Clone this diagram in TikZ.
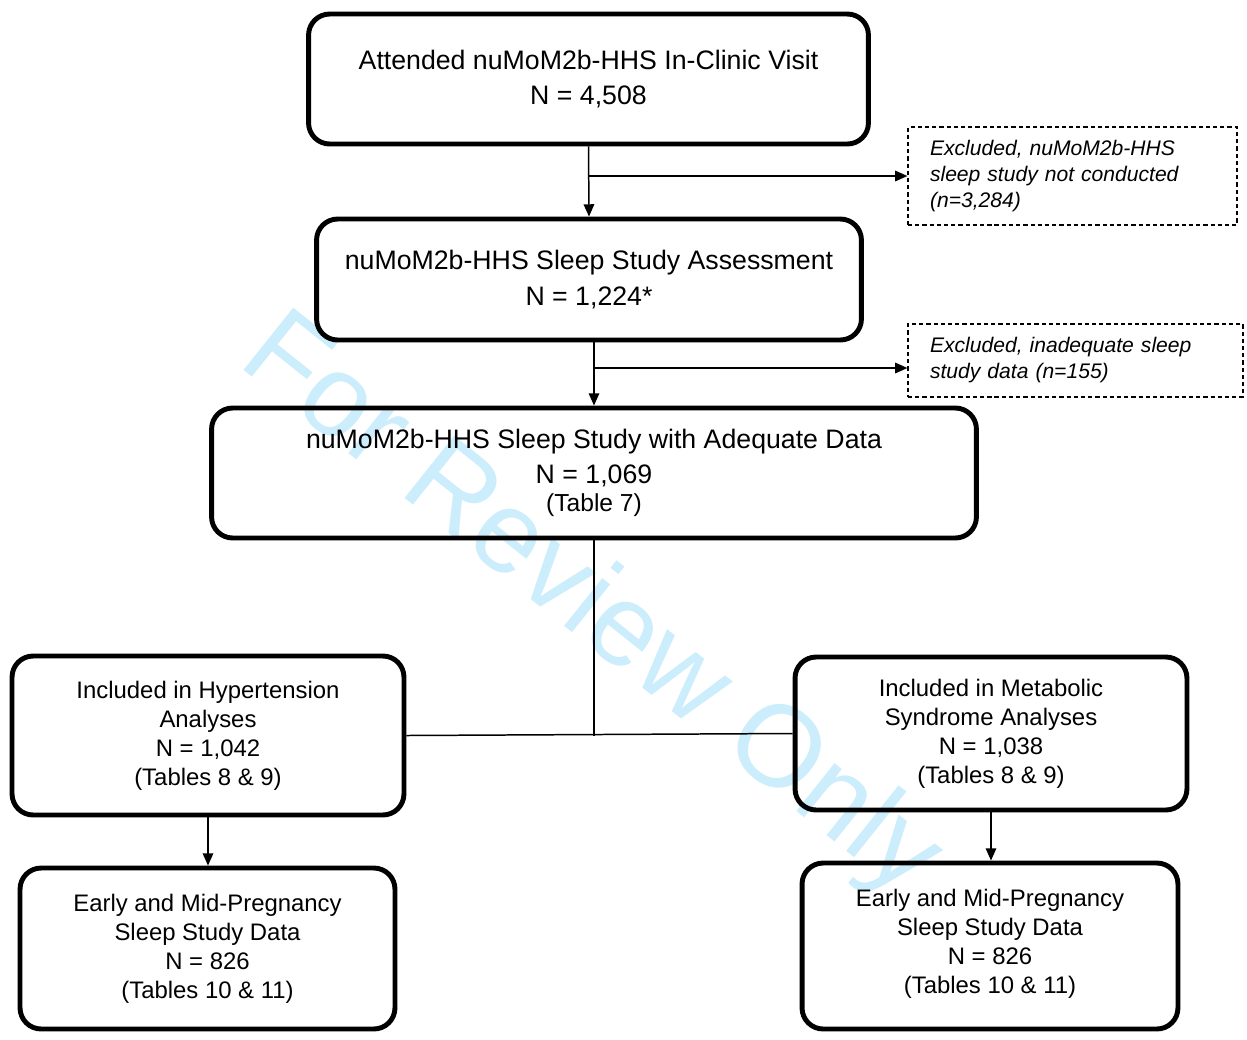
\documentclass[tikz,border=0pt]{standalone}
\usepackage{fontspec}
\setmainfont{Liberation Sans}
\usetikzlibrary{arrows.meta}
\usetikzlibrary{calc}
\definecolor{wmark}{RGB}{204,237,251}

\begin{document}
\begin{tikzpicture}[>={Triangle[length=7pt,width=6pt]},auto,x=0.02cm,y=-0.02cm]
		\tikzstyle{stage}=[rectangle,draw,line width=2.8pt,rounded corners=12pt,align=center,inner sep=0pt];
		\tikzstyle{bigtext}=[font=\fontsize{15.2}{20}\selectfont];
		\tikzstyle{smalltext}=[font=\fontsize{13.6}{16.5}\selectfont];
		\tikzstyle{excl}=[rectangle,draw,line width=0.7pt,dash pattern=on 2.4pt off 1.7pt,
			align=left,inner xsep=0.44cm,inner ysep=0pt,font=\fontsize{12}{14.8}\selectfont\itshape];
		\tikzstyle{link}=[line width=0.85pt];
		\useasboundingbox (0,0) rectangle (1247,1039);
		% watermark
		\node[rotate=-38.6,text=wmark,font=\fontsize{66}{66}\selectfont](wm) at (590,608){For Review Only};

		\node[stage,bigtext,minimum width=11.2cm,minimum height=2.6cm](v0) at (588.5,79)
			{Attended nuMoM2b-HHS In-Clinic Visit\\N = 4,508};
		\node[stage,bigtext,minimum width=10.9cm,minimum height=2.42cm](v1) at (589,279.5)
			{nuMoM2b-HHS Sleep Study Assessment\\N = 1,224*};
		\node[stage,bigtext,minimum width=15.3cm,minimum height=2.6cm](v2) at (594,473)
			{nuMoM2b-HHS Sleep Study with Adequate Data\\N = 1,069\\[-4pt]{\fontsize{14}{15}\selectfont(Table 7)}};

		\node[excl,text width=5.7cm,minimum height=1.96cm](x0) at (1072.5,176)
			{Excluded, nuMoM2b-HHS\\sleep study not conducted\\(n=3,284)};
		\node[excl,text width=5.82cm,minimum height=1.46cm](x1) at (1075.5,360.5)
			{Excluded, inadequate sleep\\study data (n=155)};

		\node[stage,smalltext,minimum width=7.84cm,minimum height=3.18cm](h1) at (208,735.5)
			{Included in Hypertension\\Analyses\\N = 1,042\\(Tables 8 \& 9)};
		\node[stage,smalltext,minimum width=7.84cm,minimum height=3.06cm](m1) at (991,733.5)
			{Included in Metabolic\\Syndrome Analyses\\N = 1,038\\(Tables 8 \& 9)};
		\node[stage,smalltext,minimum width=7.5cm,minimum height=3.22cm](h2) at (207.5,948.5)
			{Early and Mid-Pregnancy\\Sleep Study Data\\N = 826\\(Tables 10 \& 11)};
		\node[stage,smalltext,minimum width=7.52cm,minimum height=3.32cm](m2) at (990,946)
			{Early and Mid-Pregnancy\\Sleep Study Data\\N = 826\\(Tables 10 \& 11)\\[-11pt]};

		\coordinate(b0) at (v0.south|-x0.west);
		\coordinate(b1) at (595,368);
		\draw[link,->](v0.south)--(v1.north);
		\draw[link,->](b0)--(x0.west);
		\draw[link,->](v2.north|-v1.south)--(v2.north);
		\draw[link,->](b1)--(b1-|x1.west);
		\draw[link](v2.south)--(v2.south|-h1.east);
		\draw[link](h1.east)--(m1.west);
		\draw[link,->](h1.south)--(h1.south|-h2.north);
		\draw[link,->](m1.south)--(m1.south|-m2.north);
	\end{tikzpicture}
\end{document}
